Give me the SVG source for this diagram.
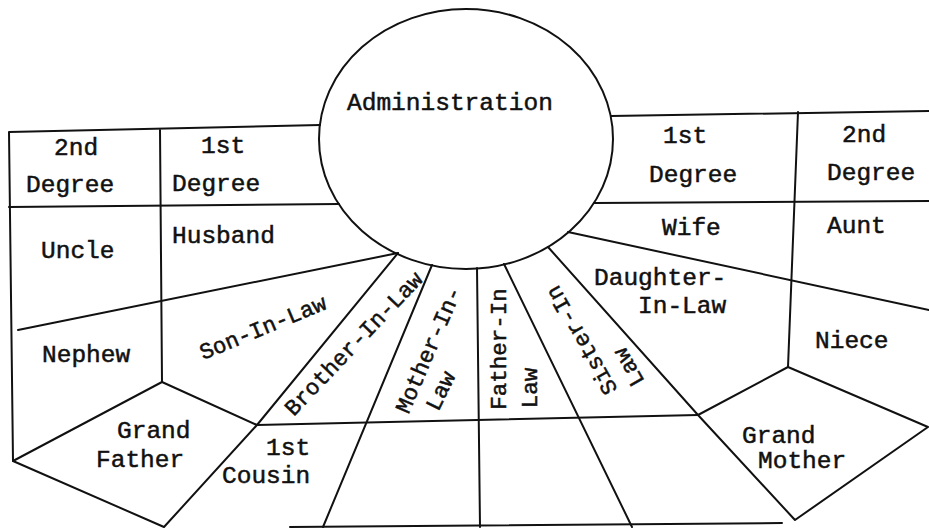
<svg xmlns="http://www.w3.org/2000/svg" width="929" height="529" viewBox="0 0 929 529">
  <style>
    .ln { stroke: #111; stroke-width: 2; fill: none; stroke-linecap: round; stroke-linejoin: round; }
    text { font-family: "Liberation Mono", "Courier New", monospace; fill: #111; stroke: #111; stroke-width: 0.5; }
    .h { font-size: 24.5px; }
    .r { font-size: 22.5px; text-anchor: middle; }
  </style>
  <rect width="929" height="529" fill="#fff"/>

  <g id="connectors">
    <!-- left table -->
    <polyline class="ln" points="320,125 9,132 13,461"/>
    <line class="ln" x1="9" y1="207" x2="339" y2="204"/>
    <line class="ln" x1="160" y1="130" x2="162" y2="382"/>
    <line class="ln" x1="18" y1="330" x2="398" y2="253"/>
    <!-- left pentagon -->
    <polygon class="ln" points="162,382 257,425 164,527 13,461"/>
    <!-- fan -->
    <line class="ln" x1="398" y1="253" x2="257" y2="425"/>
    <line class="ln" x1="432" y1="265" x2="323" y2="527"/>
    <line class="ln" x1="477" y1="268" x2="480" y2="527"/>
    <line class="ln" x1="504" y1="264" x2="632" y2="527"/>
    <line class="ln" x1="548" y1="247" x2="698" y2="415"/>
    <line class="ln" x1="257" y1="425" x2="698" y2="415"/>
    <line class="ln" x1="290" y1="527" x2="782" y2="523"/>
    <!-- right pentagon -->
    <polygon class="ln" points="698,415 788,367 928,427 795,520"/>
    <!-- right table -->
    <line class="ln" x1="611" y1="116" x2="929" y2="111"/>
    <line class="ln" x1="594" y1="203" x2="929" y2="201"/>
    <line class="ln" x1="798" y1="112" x2="788" y2="367"/>
    <line class="ln" x1="568" y1="232" x2="929" y2="310"/>
  </g>

  <g id="administration">
    <ellipse class="ln" cx="466" cy="139" rx="147" ry="130"/>
    <text class="h" x="347" y="110">Administration</text>
  </g>

  <g id="left-2nd-degree">
    <text class="h" x="54" y="155">2nd</text>
    <text class="h" x="26" y="192">Degree</text>
  </g>
  <g id="left-1st-degree">
    <text class="h" x="201" y="153">1st</text>
    <text class="h" x="172" y="191">Degree</text>
  </g>
  <g id="uncle"><text class="h" x="41" y="258">Uncle</text></g>
  <g id="husband"><text class="h" x="172" y="243">Husband</text></g>
  <g id="nephew"><text class="h" x="42" y="362">Nephew</text></g>
  <g id="grand-father">
    <text class="h" x="117" y="438">Grand</text>
    <text class="h" x="96" y="467">Father</text>
  </g>
  <g id="first-cousin">
    <text class="h" x="266" y="455">1st</text>
    <text class="h" x="222" y="483">Cousin</text>
  </g>
  <g id="son-in-law">
    <text class="r" transform="translate(263,328) rotate(-22.5)" dy="0.3em">Son-In-Law</text>
  </g>
  <g id="brother-in-law">
    <text class="r" transform="translate(354,344) rotate(-46.4)" dy="0.3em">Brother-In-Law</text>
  </g>
  <g id="mother-in-law">
    <text class="r" transform="translate(429,350) rotate(-66.7)" dy="0.3em">Mother-In-</text>
    <text class="r" transform="translate(441,391) rotate(-64)" dy="0.3em">Law</text>
  </g>
  <g id="father-in-law">
    <text class="r" transform="translate(499,349) rotate(-90)" dy="0.3em">Father-In</text>
    <text class="r" transform="translate(530,388) rotate(-90)" dy="0.3em">Law</text>
  </g>
  <g id="sister-in-law">
    <text class="r" transform="translate(582,340) rotate(-119.7)" dy="0.3em">Sister-In</text>
    <text class="r" transform="translate(629,367) rotate(-119.7)" dy="0.3em">Law</text>
  </g>
  <g id="daughter-in-law">
    <text class="h" x="594" y="285">Daughter-</text>
    <text class="h" x="638" y="313">In-Law</text>
  </g>
  <g id="right-1st-degree">
    <text class="h" x="663" y="143">1st</text>
    <text class="h" x="649" y="182">Degree</text>
  </g>
  <g id="right-2nd-degree">
    <text class="h" x="842" y="142">2nd</text>
    <text class="h" x="827" y="180">Degree</text>
  </g>
  <g id="wife"><text class="h" x="662" y="235">Wife</text></g>
  <g id="aunt"><text class="h" x="827" y="233">Aunt</text></g>
  <g id="niece"><text class="h" x="815" y="348">Niece</text></g>
  <g id="grand-mother">
    <text class="h" x="742" y="443">Grand</text>
    <text class="h" x="758" y="468">Mother</text>
  </g>
</svg>
